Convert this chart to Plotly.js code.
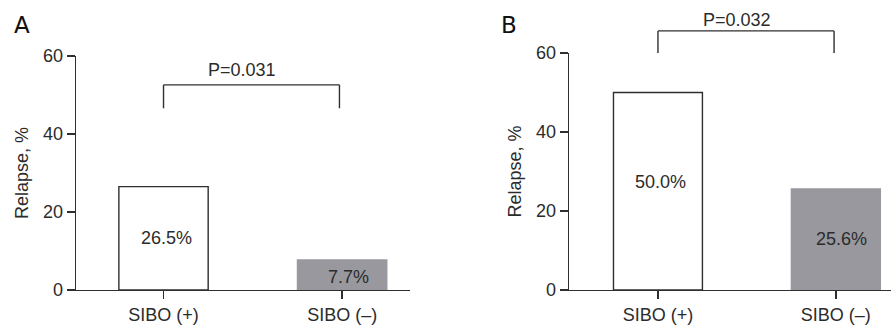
<!DOCTYPE html>
<html>
<head>
<meta charset="utf-8">
<script src="https://cdn.plot.ly/plotly-3.0.1.min.js"></script>
<style>
html,body{margin:0;padding:0;background:#fff;}
#chart{width:891px;height:325px;}
</style>
</head>
<body>
<div id="chart"></div>
<script>
// ---- data ----
const categories = ['SIBO (+)', 'SIBO (\u2013)'];
const relapseA = [26.5, 7.7];
const relapseB = [50.0, 25.6];
const pValueA = 'P=0.031';
const pValueB = 'P=0.032';
const panelLabels = ['A', 'B'];
const yTicks = [0, 20, 40, 60];

// ---- style ----
const FONT = '"Liberation Sans", Arial, Helvetica, sans-serif';
const TXT = '#2b2b2b';
const LINE = '#2f2f2f';
const barColors = ['#ffffff', '#98989e'];
const barLines = [LINE, '#98989e'];
const FS = 18;

const dom = { xA: [76/891, 410/891], xB: [569/891, 1.0], yA: [35/325, 269/325], yB: [35/325, 272/325] };

function bar(vals, xa, ya) {
  return {
    type: 'bar', x: categories, y: vals, xaxis: xa, yaxis: ya,
    width: 0.5,
    marker: { color: barColors, line: { color: barLines, width: 1.4 } },
    hoverinfo: 'skip', showlegend: false
  };
}

function xaxisDef(domain, rng) {
  return {
    domain: domain, range: rng, type: 'category',
    showline: true, linecolor: LINE, linewidth: 1.4,
    ticks: 'outside', ticklen: 8, tickwidth: 1.4, tickcolor: LINE,
    showgrid: false, zeroline: false, fixedrange: true,
    tickfont: { family: FONT, size: FS, color: TXT }
  };
}
function yaxisDef(domain, anchor) {
  return {
    domain: domain, range: [0, 60], anchor: anchor,
    tickvals: yTicks, ticktext: yTicks.map(String),
    showline: true, linecolor: LINE, linewidth: 1.4,
    ticks: 'outside', ticklen: 8, tickwidth: 1.4, tickcolor: LINE,
    showgrid: false, zeroline: false, fixedrange: true,
    tickfont: { family: FONT, size: FS, color: TXT },
    title: { text: 'Relapse, %', font: { family: FONT, size: FS, color: TXT }, standoff: 9 }
  };
}

function yPaper(d, v) { return d[0] + (d[1] - d[0]) * v / 60; }

const shapes = [];
const lineStyle = { color: LINE, width: 1.4 };
// A bracket in data units
shapes.push({ type: 'line', xref: 'x', yref: 'y', x0: 0, x1: 0, y0: 46.6, y1: 52.6, line: lineStyle });
shapes.push({ type: 'line', xref: 'x', yref: 'y', x0: 0, x1: 0.985, y0: 52.6, y1: 52.6, line: lineStyle });
shapes.push({ type: 'line', xref: 'x', yref: 'y', x0: 0.985, x1: 0.985, y0: 46.6, y1: 52.6, line: lineStyle });
// B bracket above the plot area (paper y)
const bTop = yPaper(dom.yB, 65.6), bBot = yPaper(dom.yB, 60);
shapes.push({ type: 'line', xref: 'x2', yref: 'paper', x0: 0, x1: 0, y0: bBot, y1: bTop, line: lineStyle });
shapes.push({ type: 'line', xref: 'x2', yref: 'paper', x0: 0, x1: 0.99, y0: bTop, y1: bTop, line: lineStyle });
shapes.push({ type: 'line', xref: 'x2', yref: 'paper', x0: 0.99, x1: 0.99, y0: bBot, y1: bTop, line: lineStyle });

const annFont = { family: FONT, size: FS, color: TXT };
const annotations = [];
function ann(o) { annotations.push(Object.assign({ showarrow: false, xanchor: 'center', yanchor: 'middle', font: annFont }, o)); }
// value labels
const labelYA = [relapseA[0] / 2, relapseA[1] / 2 - 0.5];
const labelYB = [relapseB[0] / 2 + 2.3, relapseB[1] / 2];
const labelShift = [3, 6];
relapseA.forEach((v, i) => ann({ xref: 'x', yref: 'y', x: i, y: labelYA[i], text: v.toFixed(1) + '%', xshift: labelShift[i] }));
relapseB.forEach((v, i) => ann({ xref: 'x2', yref: 'y2', x: i, y: labelYB[i], text: v.toFixed(1) + '%', xshift: labelShift[i] }));
// p-values
ann({ xref: 'x', yref: 'y', x: 0.44, y: 56.3, text: pValueA });
ann({ xref: 'x2', yref: 'paper', x: 0.445, y: 1 - 19.5 / 325, text: pValueB });
// panel letters
const letterFont = { family: '"DejaVu Sans", "Liberation Sans", sans-serif', size: 23, color: '#111' };
ann({ xref: 'paper', yref: 'paper', x: 21.5 / 891, y: 1 - 25 / 325, text: panelLabels[0], font: letterFont });
ann({ xref: 'paper', yref: 'paper', x: 509 / 891, y: 1 - 25 / 325, text: panelLabels[1], font: letterFont });

const layout = {
  width: 891, height: 325,
  margin: { l: 0, r: 0, t: 0, b: 0 },
  paper_bgcolor: '#fff', plot_bgcolor: 'rgba(0,0,0,0)',
  showlegend: false,
  xaxis: Object.assign(xaxisDef(dom.xA, [-0.49, 1.38]), { anchor: 'y' }),
  yaxis: yaxisDef(dom.yA, 'x'),
  xaxis2: Object.assign(xaxisDef(dom.xB, [-0.5, 1.31]), { anchor: 'y2' }),
  yaxis2: yaxisDef(dom.yB, 'x2'),
  shapes: shapes,
  annotations: annotations
};

Plotly.newPlot('chart', [bar(relapseA, 'x', 'y'), bar(relapseB, 'x2', 'y2')], layout, { staticPlot: true, displayModeBar: false });
</script>
</body>
</html>
